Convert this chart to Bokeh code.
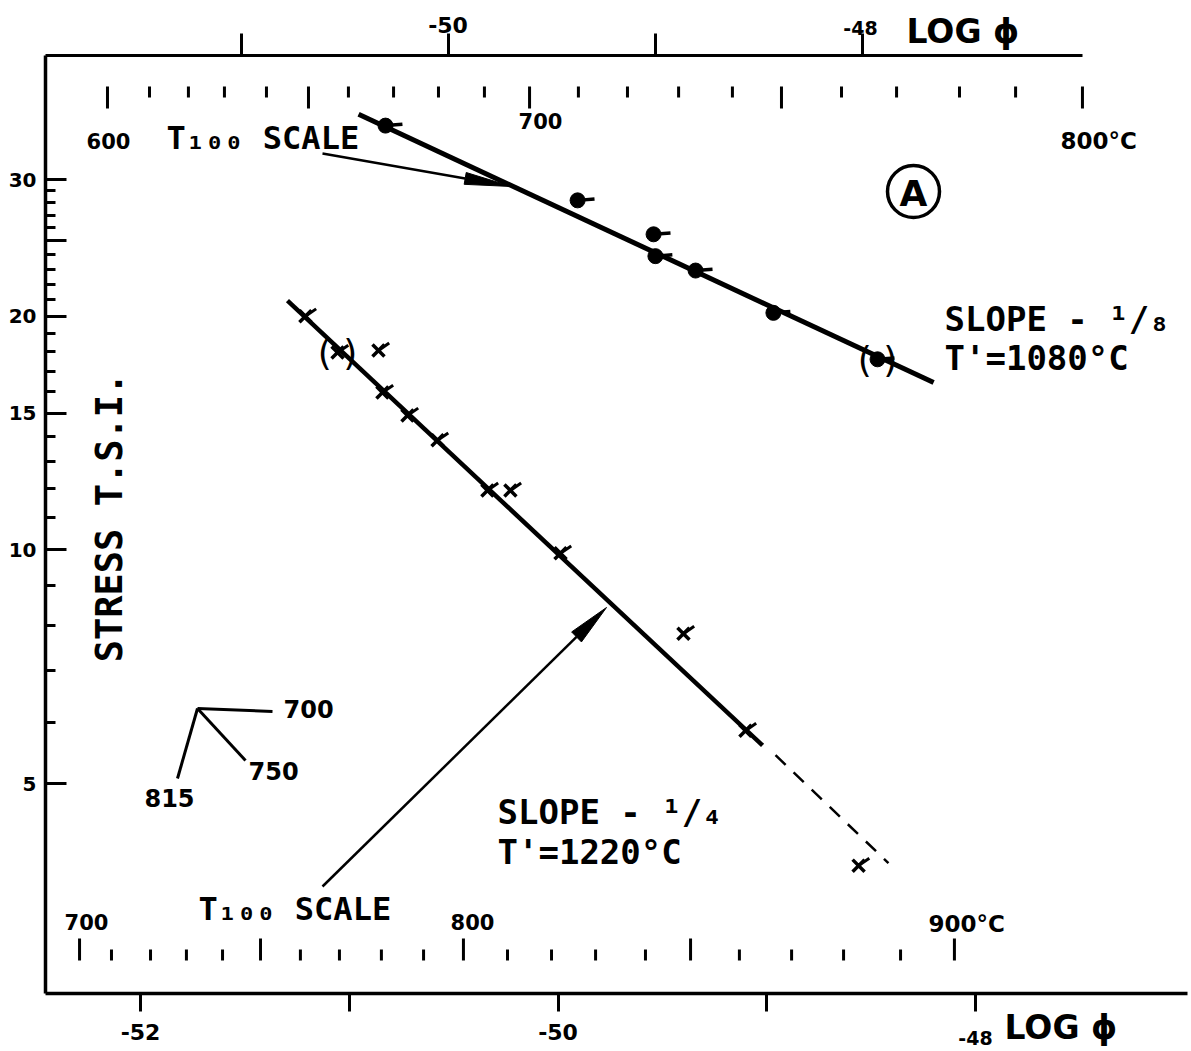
import math
from bokeh.plotting import figure
from bokeh.models import Range1d, LinearAxis, LogAxis, LinearScale, FixedTicker
from bokeh.core.properties import value
from bokeh.embed import file_html
from bokeh.resources import INLINE

# ---------------- data ----------------
# upper series: plotted against the TOP log(phi) axis
upper_logphi = [-50.302, -49.374, -49.007, -48.998, -48.804, -48.428, -47.925]
upper_stress = [35.2, 28.2, 25.5, 23.9, 22.9, 20.2, 17.6]
upper_bracketed = [6]
upper_fit_logphi = [-50.432, -47.654]
upper_fit_stress = [36.4, 16.43]

# lower series: plotted against the BOTTOM log(phi) axis
lower_logphi = [-51.210, -51.056, -50.860, -50.841, -50.721, -50.577,
                -50.338, -50.228, -49.988, -49.399, -49.102, -48.560]
lower_stress = [20.0, 17.96, 18.07, 15.95, 14.9, 13.84,
                11.93, 11.93, 9.9, 7.80, 5.85, 3.92]
lower_bracketed = [1]
lower_fit_logphi = [-51.296, -49.020]
lower_fit_stress = [20.94, 5.60]
lower_ext_logphi = [-48.958, -48.417]
lower_ext_stress = [5.44, 3.95]

# T100 temperature scales (deg C) and their log(phi) positions
top_t100_temp = [600, 610, 620, 630, 640, 650, 660, 670, 680, 690, 700,
                 710, 720, 730, 740, 750, 760, 770, 780, 790, 800]
top_t100_logphi = [-51.645, -51.442, -51.254, -51.080, -50.877, -50.674, -50.481,
                   -50.263, -50.046, -49.824, -49.606, -49.370, -49.133, -48.886,
                   -48.626, -48.389, -48.099, -47.833, -47.529, -47.258, -46.935]
bot_t100_temp = [700, 710, 720, 730, 740, 750, 760, 770, 780, 790, 800,
                 810, 820, 830, 840, 850, 860, 870, 880, 890, 900]
bot_t100_logphi = [-52.292, -52.139, -51.952, -51.780, -51.607, -51.425, -51.234,
                   -51.047, -50.846, -50.644, -50.453, -50.242, -50.031, -49.820,
                   -49.581, -49.365, -49.131, -48.881, -48.632, -48.359, -48.101]

logphi_bottom_ticks = [-52, -51, -50, -49, -48]
logphi_bottom_labels = {-52: "-52", -51: "", -50: "-50", -49: "", -48: ""}
logphi_top_ticks = [-51, -50, -49, -48]
logphi_top_labels = {-51: "", -50: "-50", -49: "", -48: ""}
stress_major_ticks = [5, 10, 15, 20, 25, 30]
stress_minor_ticks = [6, 7, 8, 9, 11, 12, 13, 14, 16, 17, 18, 19,
                      21, 22, 23, 24, 26, 27, 28, 29]
stress_labels = {5: "5", 10: "10", 15: "15", 20: "20", 25: "", 30: "30"}

# ---------------- layout: frame fills the page, axes at fixed places ----------------
NUM = "DejaVu Sans"
WORD = "DejaVu Sans Mono"
BLACK = "black"
W, H = 1191, 1051

# bottom log(phi): -52 at 140 px, 208.75 px per unit ; top log(phi): -51 at 240.5 px, 207 px/unit
# stress: 10 at 549.4 px, 776.3 px per decade
XB = (-52 - 140 / 208.75, -52 + (W - 140) / 208.75)
XT = (-51 - 240.5 / 207.0, -51 + (W - 240.5) / 207.0)
YS = (10 ** (1 - (H - 549.4) / 776.3), 10 ** (1 + 549.4 / 776.3))


def xb(px):
    return -52 + (px - 140) / 208.75


def xt(px):
    return -51 + (px - 240.5) / 207.0


def ys(px):
    return 10 ** (1 + (549.4 - px) / 776.3)


p = figure(frame_width=W, frame_height=H,
           x_range=Range1d(*XB), y_range=Range1d(*YS),
           y_axis_type="log", x_axis_location=None, y_axis_location=None,
           output_backend="svg", toolbar_location=None, min_border=0,
           outline_line_color=None,
           background_fill_color="white", border_fill_color="white")
p.grid.visible = False
p.extra_x_ranges = {"top": Range1d(*XT), "px": Range1d(0, W)}
p.extra_y_ranges = {"px": Range1d(H, 0)}
p.extra_x_scales = {"top": LinearScale(), "px": LinearScale()}
p.extra_y_scales = {"px": LinearScale()}


def style_axis(ax, size="22px"):
    ax.axis_line_width = 3.5
    ax.axis_line_color = BLACK
    ax.major_tick_line_width = 3
    ax.major_tick_line_color = BLACK
    ax.minor_tick_line_width = 3
    ax.minor_tick_line_color = BLACK
    ax.major_label_text_font = NUM
    ax.major_label_text_font_size = size
    ax.major_label_text_font_style = "bold"
    ax.major_label_text_color = BLACK


FRAME_L, FRAME_R, FRAME_T, FRAME_B, TOP_R = 45, 1187, 55, 993, 1082

# bottom log phi axis
xa = LinearAxis(ticker=FixedTicker(ticks=logphi_bottom_ticks),
                fixed_location=ys(FRAME_B), bounds=(xb(FRAME_L), xb(FRAME_R)))
xa.major_label_overrides = logphi_bottom_labels
style_axis(xa)
xa.major_tick_out = 18
xa.major_tick_in = 0
xa.minor_tick_out = 0
xa.minor_tick_in = 0
xa.major_label_standoff = 12
p.add_layout(xa, "below")

# top log phi axis
ta = LinearAxis(x_range_name="top", ticker=FixedTicker(ticks=logphi_top_ticks),
                fixed_location=ys(FRAME_T), bounds=(xt(FRAME_L), xt(TOP_R)))
ta.major_label_overrides = logphi_top_labels
style_axis(ta)
ta.axis_line_width = 3
ta.major_tick_out = 22
ta.major_tick_in = 0
ta.minor_tick_out = 0
ta.minor_tick_in = 0
ta.major_label_standoff = 1
p.add_layout(ta, "above")

# left stress axis
ya = LogAxis(ticker=FixedTicker(ticks=stress_major_ticks, minor_ticks=stress_minor_ticks),
             fixed_location=xb(FRAME_L), bounds=(ys(FRAME_B), ys(FRAME_T)))
ya.major_label_overrides = stress_labels
style_axis(ya, "20px")
ya.major_tick_in = 21
ya.major_tick_out = 0
ya.minor_tick_in = 10
ya.minor_tick_out = 0
ya.major_label_standoff = 9
p.add_layout(ya, "left")

# ---------------- T100 inner scales ----------------
TOP_SCALE_Y, BOT_SCALE_Y = 86, 960
MAJ, MIN = 22, 11
top_len = [MAJ if t % 50 == 0 else MIN for t in top_t100_temp]
p.segment(x0=top_t100_logphi, x1=top_t100_logphi,
          y0=[TOP_SCALE_Y] * len(top_len), y1=[TOP_SCALE_Y + l for l in top_len],
          x_range_name="top", y_range_name="px", line_width=3, color=BLACK)
bot_len = [MAJ if t % 50 == 0 else MIN for t in bot_t100_temp]
p.segment(x0=bot_t100_logphi, x1=bot_t100_logphi,
          y0=[BOT_SCALE_Y] * len(bot_len), y1=[BOT_SCALE_Y - l for l in bot_len],
          y_range_name="px", line_width=3, color=BLACK)

# ---------------- fitted lines ----------------
p.line(upper_fit_logphi, upper_fit_stress, x_range_name="top", line_width=5, color=BLACK)
p.line(lower_fit_logphi, lower_fit_stress, line_width=4.5, color=BLACK)
p.line(lower_ext_logphi, lower_ext_stress, line_width=2.5, color=BLACK, line_dash="14 11")

# ---------------- points ----------------
p.scatter(upper_logphi, upper_stress, x_range_name="top", size=15, color=BLACK)
p.ray(x=upper_logphi, y=upper_stress, x_range_name="top", length=17,
      length_units="screen", angle=0.08, line_width=3.5, color=BLACK)
p.scatter(lower_logphi, lower_stress, marker="x", size=17, line_width=3.5, color=BLACK)
p.ray(x=lower_logphi, y=lower_stress, length=13, length_units="screen",
      angle=0.6, line_width=3, color=BLACK)

p.text(x=[upper_logphi[i] for i in upper_bracketed],
       y=[upper_stress[i] for i in upper_bracketed], text=["( )"] * len(upper_bracketed),
       x_range_name="top", text_font=value(NUM), text_font_size="36px",
       text_align="center", text_baseline="middle", text_color=BLACK)
p.text(x=[lower_logphi[i] for i in lower_bracketed],
       y=[lower_stress[i] for i in lower_bracketed], text=["( )"] * len(lower_bracketed),
       text_font=value(NUM), text_font_size="36px",
       text_align="center", text_baseline="middle", text_color=BLACK)


# ---------------- annotations (pixel layout) ----------------
def txt(s, x, y, font=WORD, size="32px", style="bold", align="left", angle=0.0):
    p.text(x=[x], y=[y], text=[s], x_range_name="px", y_range_name="px",
           text_font=value(font), text_font_size=size, text_font_style=style,
           text_align=align, text_baseline="middle", text_color=BLACK, angle=angle)


# axis captions
txt("-48", 860, 27, NUM, "19px", "bold", "center")
txt("LOG ϕ", 906, 31, NUM, "33px", "bold", "left")
txt("-48", 975, 1037, NUM, "19px", "bold", "center")
txt("LOG ϕ", 1004, 1027, NUM, "33px", "bold", "left")

# top T100 scale labels
txt("600", 108, 140, NUM, "21px", "bold", "center")
txt("700", 540, 120, NUM, "21px", "bold", "center")
txt("800°C", 1060, 140, NUM, "23px", "bold", "left")
txt("T₁₀₀ SCALE", 166, 137, WORD, "32px", "bold", "left")
# bottom T100 scale labels
txt("700", 86, 921, NUM, "21px", "bold", "center")
txt("800", 472, 921, NUM, "21px", "bold", "center")
txt("900°C", 928, 923, NUM, "23px", "bold", "left")
txt("T₁₀₀ SCALE", 198, 908, WORD, "32px", "bold", "left")

# slope notes
txt("SLOPE - ¹/₈", 944, 318, WORD, "34px", "bold", "left")
txt("T'=1080°C", 944, 357, WORD, "34px", "bold", "left")
txt("SLOPE - ¹/₄", 497, 811, WORD, "34px", "bold", "left")
txt("T'=1220°C", 497, 851, WORD, "34px", "bold", "left")

# circled A
p.scatter(x=[913], y=[191], x_range_name="px", y_range_name="px", size=52,
          fill_color=None, line_color=BLACK, line_width=3.5)
txt("A", 913, 193, NUM, "36px", "bold", "center")

# y axis title inside the frame
txt("STRESS T.S.I.", 109, 517, WORD, "37px", "bold", "center", angle=math.pi / 2)

# small key 700 / 750 / 815
p.segment(x0=[197, 197, 197], y0=[708, 708, 708], x1=[272, 245, 177], y1=[711, 760, 778],
          x_range_name="px", y_range_name="px", line_width=3, color=BLACK)
txt("700", 283, 708, NUM, "24px", "bold", "left")
txt("750", 248, 770, NUM, "24px", "bold", "left")
txt("815", 169, 797, NUM, "24px", "bold", "center")


# arrows from the "T100 SCALE" notes
def arrow(x0, y0, x1, y1, L, w, lw):
    d = math.hypot(x1 - x0, y1 - y0)
    ux, uy = (x1 - x0) / d, (y1 - y0) / d
    bx, by = x1 - L * ux, y1 - L * uy
    p.line([x0, bx], [y0, by], x_range_name="px", y_range_name="px",
           line_width=lw, color=BLACK)
    p.patch([x1, bx - w * uy, bx + w * uy], [y1, by + w * ux, by - w * ux],
            x_range_name="px", y_range_name="px", color=BLACK)


arrow(322, 153, 511, 186, 47, 6, 2.5)
arrow(322, 886, 606, 607, 42, 7, 2.5)

open("out.html", "w").write(file_html(p, INLINE))
